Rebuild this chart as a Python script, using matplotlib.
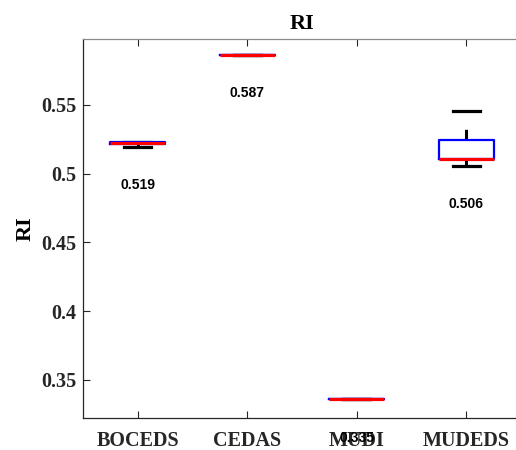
import matplotlib
matplotlib.use("Agg")
import matplotlib.pyplot as plt

categories = ["BOCEDS", "CEDAS", "MUDI", "MUDEDS"]
whislo = [0.5193, 0.5866, 0.3358, 0.5057]
q1 = [0.5213, 0.5866, 0.3358, 0.5106]
med = [0.5220, 0.5866, 0.3358, 0.5106]
q3 = [0.5228, 0.5866, 0.3358, 0.5244]
whishi = [0.5232, 0.5866, 0.3358, 0.5457]
label_values = [0.519, 0.587, 0.335, 0.506]
yticks = [0.35, 0.40, 0.45, 0.50, 0.55]
ytick_labels = ["0.35", "0.4", "0.45", "0.5", "0.55"]

fig = plt.figure(figsize=(5.16, 4.5), dpi=100)
ax = fig.add_axes([83 / 516, 1 - 418 / 450, (521 - 83) / 516, (418 - 39) / 450])

stats = []
for i, c in enumerate(categories):
    stats.append(dict(label=c, whislo=whislo[i], q1=q1[i], med=med[i],
                      q3=q3[i], whishi=whishi[i], fliers=[]))

positions = list(range(1, len(categories) + 1))
ax.bxp(stats, positions=positions, widths=0.5, capwidths=0.25,
       showfliers=False,
       boxprops=dict(color="#0000ff", linewidth=1.6, zorder=3),
       medianprops=dict(color="#ff0000", linewidth=2.3, zorder=4),
       whiskerprops=dict(color="black", linewidth=2.2, linestyle=(0, (3.5, 5.5)), zorder=2),
       capprops=dict(color="black", linewidth=2.3, zorder=2))

for p, v, lo in zip(positions, label_values, whislo):
    ax.text(p, lo - 0.0277, f"{v:.3f}", ha="center", va="center",
            fontsize=10, fontweight="bold", family="Liberation Sans", zorder=5)

ax.set_xlim(0.5, 4.5)
ax.set_ylim(0.3223, 0.598)
ax.set_yticks(yticks)
ax.set_yticklabels(ytick_labels)
ax.set_xticks(positions)
ax.set_xticklabels(categories)

for lab in ax.get_xticklabels() + ax.get_yticklabels():
    lab.set_family("Liberation Serif")
    lab.set_fontweight("bold")
    lab.set_fontsize(14.5)
    lab.set_color("#262626")

ax.tick_params(axis="both", direction="in", length=5, width=0.8, color="#262626",
               top=True, right=False)
ax.tick_params(axis="x", pad=9)
ax.tick_params(axis="y", pad=5)

for s in ["left", "bottom"]:
    ax.spines[s].set_color("#262626")
    ax.spines[s].set_linewidth(0.9)
ax.spines["top"].set_color("#8a8a8a")
ax.spines["top"].set_linewidth(0.9)
ax.spines["right"].set_visible(False)

ax.set_title("RI", family="Liberation Serif", fontweight="bold", fontsize=16, pad=7)
ax.set_ylabel("RI", family="Liberation Serif", fontweight="bold", fontsize=16)
ax.yaxis.set_label_coords(-0.108, 0.5)

fig.savefig("out.png", dpi=100)
